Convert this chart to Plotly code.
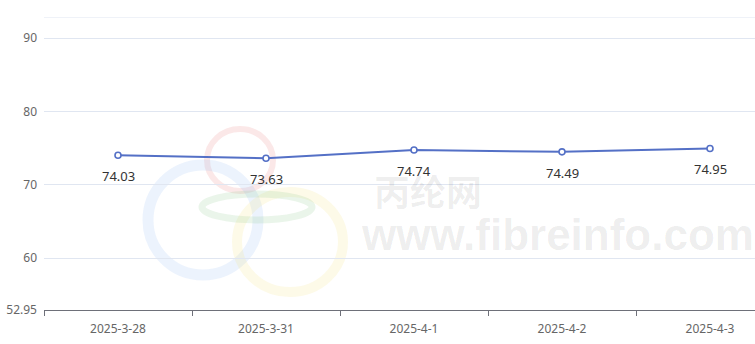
import plotly.graph_objects as go

dates = ["2025-3-28", "2025-3-31", "2025-4-1", "2025-4-2", "2025-4-3"]
values = [74.03, 73.63, 74.74, 74.49, 74.95]
y_ticks = [52.95, 60, 70, 80, 90]
y_tick_text = ["52.95", "60", "70", "80", "90"]
y_max = 92.86

W, H = 755, 344
L, T, R, B = 44, 17, 0, 34
PW, PH = W - L - R, H - T - B


def px(x):
    return (x - L) / PW


def py(y):
    return (H - B - y) / PH


fig = go.Figure()
fig.add_trace(go.Scatter(
    x=dates, y=values, mode="lines+markers",
    line=dict(color="#5470c6", width=2),
    marker=dict(size=6, color="white", line=dict(color="#5470c6", width=1.6)),
    cliponaxis=False, showlegend=False, hoverinfo="x+y",
))

shapes = []
# watermark rings (background)
rings = [
    (240, 160, 33, 31, 6, "rgba(235,140,140,0.2)"),
    (203, 220, 55, 55, 11, "rgba(160,195,245,0.2)"),
    (290, 242, 53, 50, 10, "rgba(245,225,130,0.18)"),
    (257, 207, 55, 13, 7, "rgba(150,205,150,0.2)"),
]
for cx, cy, rx, ry, w, c in rings:
    shapes.append(dict(type="circle", xref="paper", yref="paper", layer="below",
                       x0=px(cx - rx), x1=px(cx + rx), y0=py(cy + ry), y1=py(cy - ry),
                       line=dict(color=c, width=w), fillcolor="rgba(0,0,0,0)"))
# top grid line
shapes.append(dict(type="line", xref="paper", yref="y", x0=0, x1=1, y0=y_max, y1=y_max,
                   layer="below", line=dict(color="#e0e6f1", width=1)))

annotations = [
    dict(text="<b>丙纶网</b>", xref="paper", yref="paper", x=px(428), y=py(190),
         xanchor="center", yanchor="middle",
         showarrow=False, font=dict(size=36, color="rgba(0,0,0,0.075)", family="Noto Sans CJK SC")),
    dict(text="<b>www.fibreinfo.com</b>", xref="paper", yref="paper", x=px(557), y=py(234),
         xanchor="center", yanchor="middle",
         showarrow=False, font=dict(size=44, color="rgba(0,0,0,0.075)", family="Liberation Sans")),
]
for d, v in zip(dates, values):
    annotations.append(dict(x=d, y=v, xref="x", yref="y", text=f"{v:.2f}", showarrow=False,
                            yshift=-21, xanchor="center", yanchor="middle",
                            font=dict(size=13, color="#333333", family="Noto Sans")))

fig.update_layout(
    width=W, height=H, margin=dict(l=L, r=R, t=T, b=B),
    paper_bgcolor="white", plot_bgcolor="white",
    shapes=shapes, annotations=annotations,
    xaxis=dict(type="category", range=[-0.5, -0.5 + PW / 148.0],
               tickson="boundaries", ticks="outside", ticklen=5, tickcolor="#6e7079",
               showline=True, linecolor="#6e7079", linewidth=1, showgrid=False,
               ticklabelstandoff=8,
               tickfont=dict(size=12, color="#666666", family="Noto Sans"), zeroline=False),
    yaxis=dict(range=[52.95, y_max], tickvals=y_ticks, ticktext=y_tick_text,
               showgrid=True, gridcolor="#e0e6f1", gridwidth=1, showline=False, zeroline=False,
               ticks="", ticklabelstandoff=6,
               tickfont=dict(size=12, color="#666666", family="Noto Sans")),
)

fig.write_html("out.html")
